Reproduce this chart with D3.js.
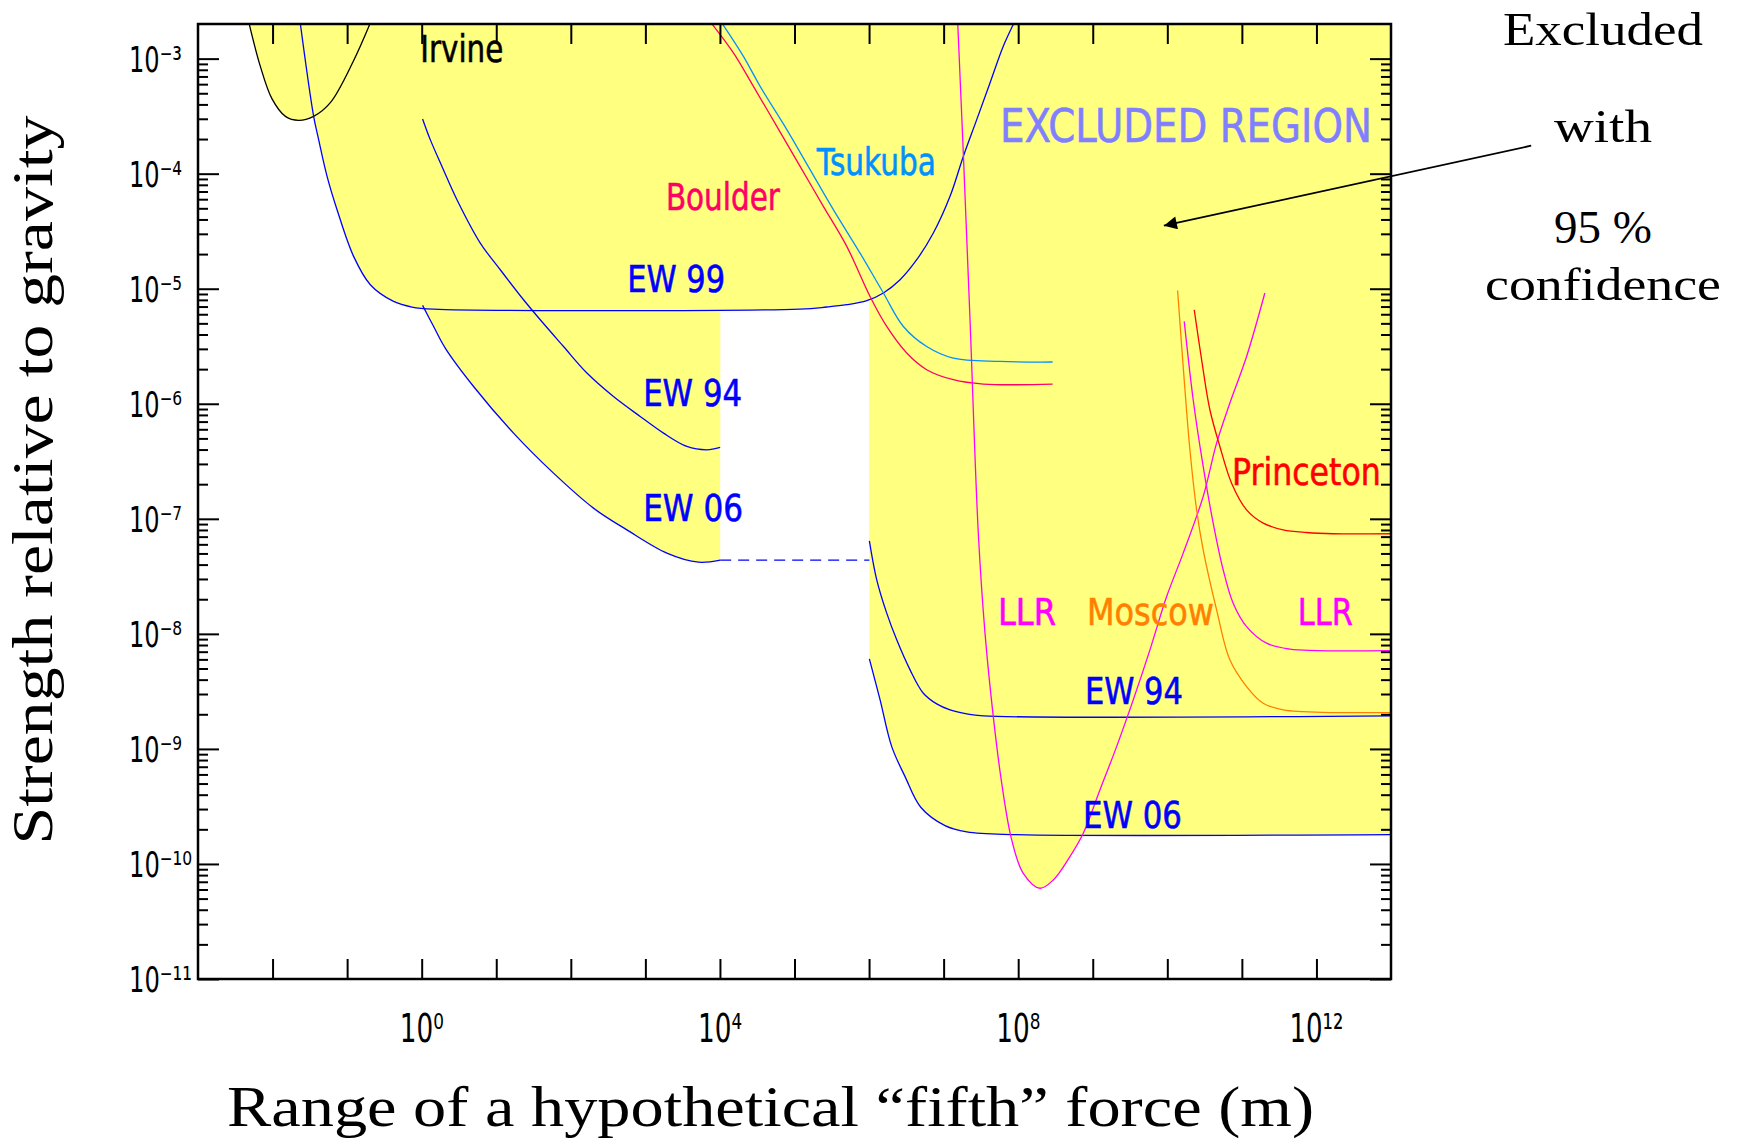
<!DOCTYPE html>
<html><head><meta charset="utf-8">
<script src="https://cdn.jsdelivr.net/npm/d3@7"></script>
<style>body{margin:0;background:#fff}svg{display:block}</style>
</head><body>
<svg id="chart" width="1739" height="1141"></svg>
<script>
// ---- data: pairs of [log10(range in m), log10(strength relative to gravity)] ----
const irvine = [[-2.311,-2.704],[-2.164,-3.067],[-2.007,-3.350],[-1.828,-3.502],[-1.650,-3.537],[-1.449,-3.502],[-1.225,-3.383],[-0.917,-3.023],[-0.698,-2.704]];
const ew99 = [[-1.627,-2.699],[-1.449,-3.502],[-1.382,-3.704],[-1.269,-4.023],[-1.135,-4.313],[-0.913,-4.719],[-0.689,-4.965],[-0.377,-5.110],[-0.130,-5.159],[0.160,-5.177],[5.075,-5.177],[5.433,-5.159],[5.701,-5.139],[5.969,-5.104],[6.192,-5.037],[6.416,-4.922],[6.639,-4.748],[6.862,-4.516],[7.086,-4.197],[7.264,-3.850],[7.444,-3.530],[7.622,-3.211],[7.800,-2.893],[7.934,-2.704]];
const ew94Short = [[0.012,-3.524],[0.115,-3.704],[0.272,-3.937],[0.473,-4.226],[0.786,-4.603],[1.054,-4.835],[1.366,-5.096],[1.590,-5.270],[1.902,-5.502],[2.216,-5.733],[2.572,-5.937],[2.930,-6.110],[3.243,-6.255],[3.556,-6.371],[3.824,-6.400],[4.003,-6.380]];
const ew06Short = [[0.012,-5.145],[0.160,-5.328],[0.316,-5.516],[0.696,-5.850],[1.232,-6.255],[1.768,-6.603],[2.304,-6.907],[2.752,-7.096],[3.288,-7.298],[3.712,-7.377],[4.003,-7.359]];
const gapBridge = [[4.003,-7.359],[6.004,-7.359]];
const ew94Long = [[6.004,-7.191],[6.103,-7.530],[6.237,-7.820],[6.371,-8.052],[6.550,-8.313],[6.728,-8.516],[6.907,-8.609],[7.086,-8.661],[7.310,-8.696],[7.532,-8.713],[13,-8.713]];
const ew06Long = [[6.004,-8.217],[6.148,-8.574],[6.304,-8.980],[6.483,-9.241],[6.693,-9.507],[7.019,-9.667],[7.310,-9.722],[7.980,-9.745],[13,-9.745]];
const boulder = [[3.900,-2.704],[4.181,-2.950],[4.449,-3.241],[4.763,-3.589],[5.075,-3.937],[5.387,-4.284],[5.701,-4.632],[6.013,-5.067],[6.237,-5.328],[6.505,-5.559],[6.773,-5.704],[7.130,-5.791],[7.532,-5.829],[8.462,-5.829]];
const tsukuba = [[4.040,-2.704],[4.315,-2.980],[4.539,-3.241],[4.897,-3.617],[5.209,-3.965],[5.521,-4.313],[5.879,-4.690],[6.192,-5.037],[6.460,-5.328],[6.773,-5.502],[7.130,-5.603],[7.756,-5.632],[8.462,-5.637]];
const llrLunar = [[7.190,-2.704],[7.264,-3.820],[7.354,-5.270],[7.465,-7.124],[7.555,-7.994],[7.666,-8.719],[7.779,-9.298],[7.913,-9.791],[8.068,-10.081],[8.292,-10.211],[8.471,-10.139],[8.694,-9.936],[8.873,-9.733],[9.096,-9.357],[9.320,-8.980],[9.543,-8.574],[9.767,-8.139],[9.991,-7.676],[10.213,-7.298],[10.481,-6.806],[10.661,-6.342],[10.839,-5.994],[11.063,-5.589],[11.308,-5.037]];
const moscow = [[10.138,-5.015],[10.213,-5.676],[10.303,-6.400],[10.393,-6.922],[10.481,-7.270],[10.661,-7.791],[10.839,-8.226],[11.063,-8.458],[11.286,-8.603],[11.554,-8.661],[11.822,-8.676],[12.180,-8.684],[13,-8.684]];
const llrPlanetary = [[10.227,-5.284],[10.347,-5.965],[10.481,-6.545],[10.615,-7.037],[10.749,-7.443],[10.883,-7.733],[11.063,-7.937],[11.331,-8.081],[11.643,-8.133],[12.001,-8.145],[13,-8.145]];
const princeton = [[10.361,-5.183],[10.460,-5.617],[10.571,-6.052],[10.705,-6.371],[10.862,-6.690],[11.063,-6.922],[11.286,-7.037],[11.554,-7.096],[11.867,-7.119],[12.224,-7.130],[13,-7.130]];

const xTickExps = [0, 4, 8, 12];
const xMajorExps = [-2,-1,0,1,2,3,4,5,6,7,8,9,10,11,12];
const yTickExps = [-11,-10,-9,-8,-7,-6,-5,-4,-3];
const labelNames = ["Irvine","EXCLUDED REGION","Tsukuba","Boulder","EW 99","EW 94","EW 06","LLR","Moscow","EW 94","EW 06","Princeton","LLR"];
// anchor of each label (left end, baseline) in the same log10 data space
const labelAnchors = [[-0.019,-3.026],[7.756,-3.722],[5.299,-4.009],[3.275,-4.313],[2.756,-5.026],[2.970,-6.017],[2.970,-7.017],[7.729,-7.922],[8.922,-7.922],[8.895,-8.609],[8.869,-9.687],[10.866,-6.704],[11.751,-7.922]];
const sideNote = ["Excluded","with","95 %","confidence"];
const xTitle = "Range of a hypothetical \u201cfifth\u201d force (m)";
const yTitle = "Strength relative to gravity";

// ---- layout / styles ----
const plot = {left:198, right:1391, top:24, bottom:979};
const x = d3.scaleLog().domain([1e-3, 1e13]).range([plot.left, plot.right]);
const y = d3.scaleLog().domain([1e-11, 2e-3]).range([plot.bottom, plot.top]);
const X = e => x(Math.pow(10, e)), Y = e => y(Math.pow(10, e));
const svg = d3.select("#chart");
const SANS = "'DejaVu Sans', 'Liberation Sans', sans-serif";
const SERIF = "'Liberation Serif', 'DejaVu Serif', serif";

const BLUE = "#0000ff";
const series = [
  {d: irvine, c: "#000000"},
  {d: ew99, c: BLUE},
  {d: ew94Short, c: BLUE},
  {d: ew06Short, c: BLUE},
  {d: ew94Long, c: BLUE},
  {d: ew06Long, c: BLUE},
  {d: boulder, c: "#ff0066"},
  {d: tsukuba, c: "#0090ff"},
  {d: llrLunar, c: "#ff00ff"},
  {d: moscow, c: "#ff8000"},
  {d: llrPlanetary, c: "#ff00ff"},
  {d: princeton, c: "#ff0000"}
];
const labelColors = ["#000000","#8080ff","#0090ff","#ff0066",BLUE,BLUE,BLUE,"#ff00ff","#ff8000",BLUE,BLUE,"#ff0000","#ff00ff"];
const labelWidths = [83,372,119,114,98,99,100,58,127,98,99,149,55];
const labelSizes = [37,47,37,37,37,37,37,37,37,37,37,37,37];

const defs = svg.append("defs");
defs.append("clipPath").attr("id","clip")
  .append("rect").attr("x",plot.left).attr("y",plot.top)
  .attr("width",plot.right-plot.left).attr("height",plot.bottom-plot.top);

const line = d3.line().x(d => X(d[0])).y(d => Y(d[1])).curve(d3.curveCatmullRom.alpha(0.5));

// excluded region: union of areas above every limit curve
const g = svg.append("g").attr("clip-path","url(#clip)");
series.forEach(s => {
  const f = s.d[0], l = s.d[s.d.length-1];
  g.append("path")
    .attr("d", line(s.d) + `L${X(l[0])},${plot.top-5}L${X(f[0])},${plot.top-5}Z`)
    .attr("fill","#ffff80").attr("stroke","none");
});

// dashed bridge
g.append("path").attr("d", d3.line().x(d=>X(d[0])).y(d=>Y(d[1]))(gapBridge))
  .attr("fill","none").attr("stroke",BLUE).attr("stroke-width",1.2).attr("stroke-dasharray","11,7");

// curves
series.forEach(s => {
  g.append("path").attr("d", line(s.d)).attr("fill","none")
    .attr("stroke", s.c).attr("stroke-width", 1.3);
});

// labels
labelNames.forEach((t,i) => {
  svg.append("text").attr("x", X(labelAnchors[i][0])).attr("y", Y(labelAnchors[i][1]))
    .attr("font-family", SANS).attr("font-size", labelSizes[i])
    .attr("textLength", labelWidths[i]).attr("lengthAdjust","spacingAndGlyphs")
    .attr("fill", labelColors[i]).attr("stroke", labelColors[i]).attr("stroke-width", 0.6)
    .text(t);
});

// axes ticks
const decades = yTickExps.map(e => Math.pow(10,e));
const minors = [];
yTickExps.forEach(e => { for (let m=2; m<=9; m++) { const v = m*Math.pow(10,e); if (v < 2e-3) minors.push(v); } });
const xDec = xMajorExps.map(e => Math.pow(10,e));
function styleAx(sel){ sel.select(".domain").remove(); sel.selectAll("line").attr("stroke","#000").attr("stroke-width",2); sel.selectAll("text").remove(); }
svg.append("g").attr("transform",`translate(0,${plot.bottom})`)
  .call(d3.axisBottom(x).tickValues(xDec).tickSize(-20).tickSizeOuter(0)).call(styleAx);
svg.append("g").attr("transform",`translate(0,${plot.top})`)
  .call(d3.axisTop(x).tickValues(xDec).tickSize(-20).tickSizeOuter(0)).call(styleAx);
svg.append("g").attr("transform",`translate(${plot.left},0)`)
  .call(d3.axisLeft(y).tickValues(decades).tickSize(-21).tickSizeOuter(0)).call(styleAx);
svg.append("g").attr("transform",`translate(${plot.left},0)`)
  .call(d3.axisLeft(y).tickValues(minors).tickSize(-10).tickSizeOuter(0)).call(styleAx);
svg.append("g").attr("transform",`translate(${plot.right},0)`)
  .call(d3.axisRight(y).tickValues(decades).tickSize(-21).tickSizeOuter(0)).call(styleAx);
svg.append("g").attr("transform",`translate(${plot.right},0)`)
  .call(d3.axisRight(y).tickValues(minors).tickSize(-10).tickSizeOuter(0)).call(styleAx);

// frame
svg.append("rect").attr("x",plot.left).attr("y",plot.top)
  .attr("width",plot.right-plot.left).attr("height",plot.bottom-plot.top)
  .attr("fill","none").attr("stroke","#000").attr("stroke-width",2.5);

// power-of-ten tick labels as single strings with superscript characters
const SUP = {"0":"\u2070","1":"\u00b9","2":"\u00b2","3":"\u00b3","4":"\u2074","5":"\u2075","6":"\u2076","7":"\u2077","8":"\u2078","9":"\u2079","-":"\u207b"};
const supStr = e => String(e).split("").map(c => SUP[c]).join("");
yTickExps.forEach(e => {
  const s = supStr(e);
  svg.append("text").attr("x",129).attr("y",Y(e)+13).attr("font-family",SANS).attr("font-size",36)
    .attr("textLength", s.length===2 ? 53 : 63).attr("lengthAdjust","spacingAndGlyphs").text("10" + s);
});
xTickExps.forEach(e => {
  const s = supStr(e), w = s.length===1 ? 44 : 54;
  svg.append("text").attr("x",X(e) - w/2).attr("y",1042).attr("font-family",SANS).attr("font-size",39)
    .attr("textLength", w).attr("lengthAdjust","spacingAndGlyphs").text("10" + s);
});

// axis titles
svg.append("text").attr("x",(227+1314)/2).attr("y",1126).attr("text-anchor","middle")
  .attr("font-family",SERIF).attr("font-size",56).attr("textLength",1087)
  .attr("lengthAdjust","spacingAndGlyphs").text(xTitle);
svg.append("text").attr("transform","translate(52,480) rotate(-90)").attr("text-anchor","middle")
  .attr("font-family",SERIF).attr("font-size",56).attr("textLength",729)
  .attr("lengthAdjust","spacingAndGlyphs").text(yTitle);

// side note
const noteY = [45,142,243,300], noteW = [200,98,98,236];
sideNote.forEach((t,i) => {
  svg.append("text").attr("x",1603).attr("y",noteY[i]).attr("text-anchor","middle")
    .attr("font-family",SERIF).attr("font-size",46).attr("textLength",noteW[i])
    .attr("lengthAdjust","spacingAndGlyphs").text(t);
});

// arrow
defs.append("marker").attr("id","ah").attr("viewBox","0 0 10 10")
  .attr("refX",10).attr("refY",5).attr("markerWidth",17).attr("markerHeight",13)
  .attr("markerUnits","userSpaceOnUse").attr("orient","auto")
  .append("path").attr("d","M0,0L10,5L0,10Z").attr("fill","#000");
svg.append("line").attr("x1",X(14.88)).attr("y1",Y(-3.757)).attr("x2",X(9.954)).attr("y2",Y(-4.452))
  .attr("stroke","#000").attr("stroke-width",1.8).attr("marker-end","url(#ah)");
</script>
</body></html>
